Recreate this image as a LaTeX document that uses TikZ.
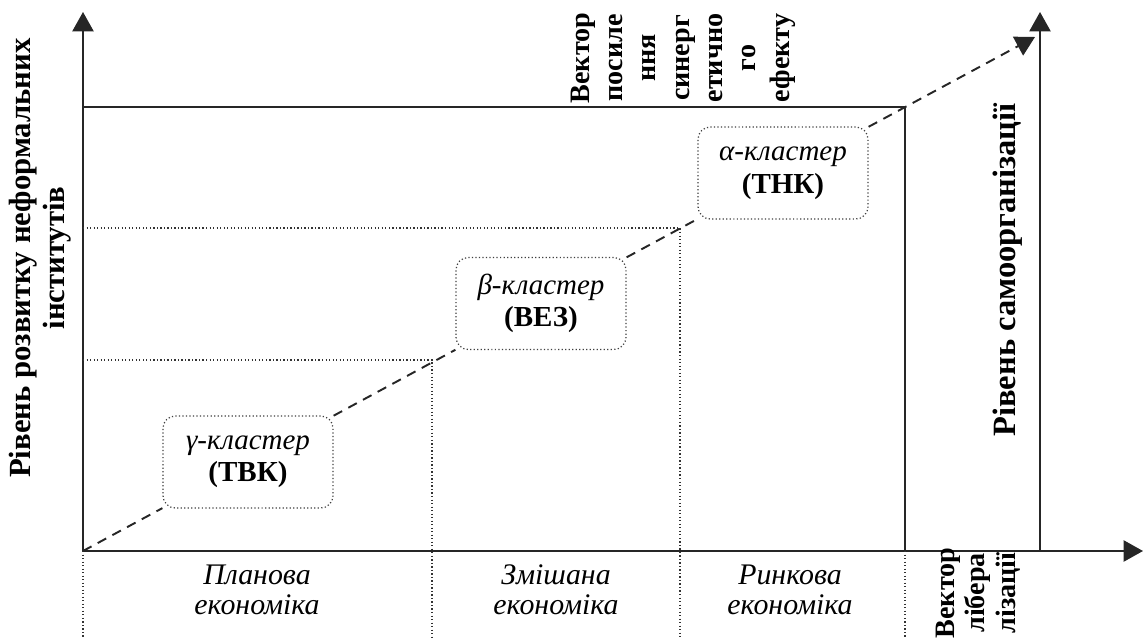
\documentclass[tikz,border=0pt]{standalone}
\usepackage{fontspec}
\setmainfont{Liberation Serif}
\usetikzlibrary{arrows.meta}

\begin{document}
\begin{tikzpicture}[
    axisline/.style={
        draw=black!85,
        line width=1.1pt,
        -{Triangle[length=11pt,width=12pt]}
    },
    frameline/.style={
        draw=black!85,
        line width=1.1pt
    },
    guideline/.style={
        draw=black!80,
        line width=0.7pt,
        dash pattern=on 0.7pt off 1.3pt
    },
    vecline/.style={
        draw=black!85,
        line width=1.1pt,
        dash pattern=on 5.5pt off 4pt
    },
    clusternode/.style={
        draw=black!75,
        fill=white,
        rounded corners=7pt,
        line width=0.7pt,
        dash pattern=on 0.7pt off 1.3pt,
        minimum width=3.4cm,
        minimum height=1.84cm,
        inner sep=0pt,
        align=center,
        font=\fontsize{16.5}{18.5}\selectfont
    },
    axislabel/.style={
        rotate=90,
        align=center,
        inner sep=0pt,
        font=\bfseries\fontsize{16}{19}\selectfont
    },
    econlabel/.style={
        align=center,
        inner sep=0pt,
        font=\itshape\fontsize{17}{17}\selectfont
    }
]
    \useasboundingbox (0,0) rectangle (22.9,12.76);

    % --- AXES ---
    \coordinate (O) at (1.66,1.74);
    \coordinate (ytop) at (1.66,12.52);
    \coordinate (xend) at (22.86,1.74);
    \coordinate (zbase) at (20.8,1.74);
    \coordinate (ztop) at (20.8,12.52);
    \coordinate (vecend) at (20.7,12.02);

    \draw[axisline] (O) -- (ytop);
    \draw[axisline] (O) -- (xend);
    \draw[axisline] (zbase) -- (ztop);

    % --- FRAME ---
    \coordinate (tl) at (1.66,10.62);
    \coordinate (tr) at (18.1,10.62);
    \coordinate (br) at (18.1,1.74);
    \draw[frameline] (tl) -- (tr) -- (br);

    % --- GUIDES ---
    \draw[guideline] (1.66,8.2) -- (13.6,8.2) -- (13.6,0);
    \draw[guideline] (1.66,5.56) -- (8.64,5.56) -- (8.64,0);
    \draw[guideline] (1.66,1.74) -- (1.66,0);
    \draw[guideline] (18.1,1.74) -- (18.1,0);

    % --- CLUSTERS ---
    \node[clusternode] (gamma) at (4.96,3.52) {\textit{γ-кластер}\\\textbf{(ТВК)}};
    \node[clusternode] (beta) at (10.82,6.69) {\textit{β-кластер}\\\textbf{(ВЕЗ)}};
    \node[clusternode] (alpha) at (15.66,9.30) {\textit{α-кластер}\\\textbf{(ТНК)}};

    \draw[vecline] (O) -- (gamma);
    \draw[vecline] (gamma) -- (beta);
    \draw[vecline] (beta) -- (alpha);
    \draw[vecline, -{Triangle[length=11pt,width=12pt]}] (alpha) -- (vecend);

    % --- LABELS ---
    \node[axislabel, font=\bfseries\fontsize{17.5}{19.5}\selectfont] (ylab) at (0.8,7.6) {Рівень розвитку неформальних\\інститутів};
    \node[axislabel, font=\bfseries\fontsize{18.5}{19}\selectfont] (zlab) at (20.16,7.36) {Рівень самоорганізації};
    \node[axislabel] (synlab) at (13.66,11.6) {Вектор\\посиле\\ння\\синерг\\етично\\го\\ефекту};
    \node[axislabel, font=\bfseries\fontsize{16}{17.5}\selectfont] (liblab) at (19.56,0.9) {Вектор\\лібера\\лізації};

    \node[econlabel] (plan) at (5.14,0.96) {Планова\\економіка};
    \node[econlabel] (mixed) at (11.12,0.96) {Змішана\\економіка};
    \node[econlabel] (market) at (15.8,0.96) {Ринкова\\економіка};
\end{tikzpicture}
\end{document}
